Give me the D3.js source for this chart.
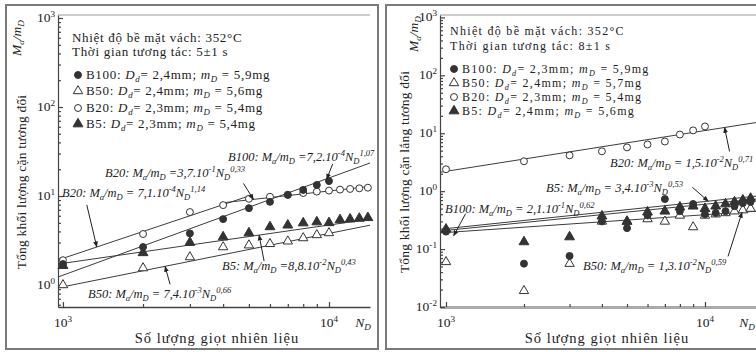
<!DOCTYPE html>
<meta charset="utf-8">
<title>Tổng khối lượng cặn tương đối</title>
<style>
body { margin: 0; background: #fff; }
svg { display: block; font-family: "Liberation Serif", "DejaVu Serif", serif; }
text { fill: #222; }
.frame { fill: none; stroke: #7a7a7a; stroke-width: 2px; }
.axis path, .axis line { stroke: #444; stroke-width: 1.2px; }
.fit { fill: none; stroke: #3c3c3c; stroke-width: 1px; }
.arrow { stroke: #222; stroke-width: 1px; }
</style>
<svg id="chart" width="756" height="352"></svg>
<script src="https://cdnjs.cloudflare.com/ajax/libs/d3/7.8.5/d3.min.js"></script>
<script>
// number of drops N_D
const dropsLeft = [1000, 2000, 3000, 4000, 5000, 6000, 7000, 8000, 9000, 10000, 11000, 12000, 13000, 14000];
const dropsRight = [1000, 2000, 3000, 4000, 5000, 6000, 7000, 8000, 9000, 10000, 11000, 12000, 13000, 14000, 15000];

// left panel, 5±1 s
const leftB100 = [1.72, 2.67, 3.8, 5.5, 7.3, 8.6, 10.3, 11.7, 13.3, 14.7, null, null, null, null];
const leftB50 = [1.0, 1.55, 2.06, 2.67, 2.8, 2.9, 3.1, 3.37, 3.65, 3.84, null, null, null, null];
const leftB20 = [1.9, 3.74, 6.6, 7.9, 9.3, 9.8, 10.3, 10.8, 11.2, 11.5, 11.8, 12.0, 12.2, 12.4];
const leftB5 = [1.65, 2.3, 3.0, 3.46, 3.84, 4.5, 4.7, 4.97, 5.1, 5.0, 5.4, 5.5, 5.6, 5.7];

// right panel, 8±1 s
const rightB100 = [0.2, 0.056, 0.076, 0.3, 0.23, 0.38, 0.73, 0.45, 0.6, 0.4, 0.42, 0.45, 0.55, 0.62, 0.65];
const rightB50 = [0.06, 0.019, 0.056, 0.3, 0.3, 0.33, 0.3, 0.38, 0.24, 0.38, 0.4, 0.42, 0.45, 0.47, 0.5];
const rightB20 = [2.39, 3.28, 4.15, 4.87, 5.7, 6.4, 7.2, 9.5, 11.2, 13.1, null, null, null, null, null];
const rightB5 = [0.22, 0.133, 0.162, 0.37, 0.3, 0.435, 0.45, 0.53, 0.55, 0.5, 0.55, 0.6, 0.65, 0.7, 0.75];

// fitted power laws, drawn between two read-off end points [N, value]
const fitsLeft = [
  [[958, 1.23], [14260, 23.5]],   // B100
  [[958, 1.91], [5000, 10]],      // B20, first part
  [[4000, 8.4], [14260, 12.8]],   // B20, second part
  [[958, 1.72], [14260, 5.5]],    // B5
  [[958, 0.93], [14260, 4.7]]     // B50
];
const fitsRight = [
  [[948, 2.12], [15740, 15.3]],   // B20
  [[948, 0.205], [15740, 0.73]],  // B100
  [[948, 0.22], [15740, 0.82]],   // B5
  [[948, 0.19], [15740, 0.45]]    // B50
];

const notesLeft = [
  "B100: M_{a}/m_{D} =7,2.10^{-4}N_{D}^{1,07}",
  "B20: M_{a}/m_{D} =3,7.10^{-1}N_{D}^{0,33}",
  "B20: M_{a}/m_{D} = 7,1.10^{-4}N_{D}^{1,14}",
  "B5: M_{a}/m_{D} =8,8.10^{-2}N_{D}^{0,43}",
  "B50: M_{a}/m_{D} = 7,4.10^{-3}N_{D}^{0,66}"
];
const tipsLeft = [[9800, 15.5], [5200, 9.15], [1340, 2.68], [5460, 3.64], [2420, 1.62]];
const notesRight = [
  "B20: M_{a}/m_{D} = 1,5.10^{-2}N_{D}^{0,71}",
  "B5: M_{a}/m_{D} = 3,4.10^{-3}N_{D}^{0,53}",
  "B100: M_{a}/m_{D} = 2,1.10^{-1}N_{D}^{0,62}",
  "B50: M_{a}/m_{D} = 1,3.10^{-2}N_{D}^{0,59}"
];
const tipsRight = [[11900, 12.6], [10300, 0.67], [1070, 0.17], [13900, 0.43]];

const legendKeys = ["B100", "B50", "B20", "B5"];
const legendLeft = [
  "Nhiệt độ bề mặt vách: 352°C",
  "Thời gian tương tác: 5±1 s",
  "B100: *D_{d}*= 2,4mm; *m_{D}* = 5,9mg",
  "B50: *D_{d}*= 2,4mm; *m_{D}* = 5,6mg",
  "B20: *D_{d}*= 2,3mm; *m_{D}* = 5,4mg",
  "B5: *D_{d}*= 2,3mm; *m_{D}* = 5,4mg"
];
const legendRight = [
  "Nhiệt độ bề mặt vách: 352°C",
  "Thời gian tương tác: 8±1 s",
  "B100: *D_{d}*= 2,3mm; *m_{D}* = 5,9mg",
  "B50: *D_{d}*= 2,4mm; *m_{D}* = 5,7mg",
  "B20: *D_{d}*= 2,3mm; *m_{D}* = 5,4mg",
  "B5: *D_{d}*= 2,4mm; *m_{D}* = 5,6mg"
];

const symbols = {
  B100: {type: d3.symbolCircle, filled: true, size: 38},
  B50: {type: d3.symbolTriangle, filled: false, size: 38},
  B20: {type: d3.symbolCircle, filled: false, size: 38},
  B5: {type: d3.symbolTriangle, filled: true, size: 42}
};

const svg = d3.select("#chart");
svg.append("defs").append("marker")
    .attr("id", "head")
    .attr("viewBox", "0 0 10 10")
    .attr("refX", 9).attr("refY", 5)
    .attr("markerWidth", 6).attr("markerHeight", 6)
    .attr("orient", "auto")
  .append("path")
    .attr("d", "M0,1L10,5L0,9Z")
    .attr("fill", "#222");

// little markup: _{sub}, ^{sup}, *italic*
function rich(sel, s) {
  let italic = false, shift = 0;
  for (const m of s.matchAll(/([_^])\{([^}]*)\}|\*|[^_^*]+/g)) {
    if (m[0] === "*") { italic = !italic; continue; }
    const t = sel.append("tspan");
    if (italic) t.attr("font-style", "italic");
    if (m[1]) {
      const d = m[1] === "_" ? 2.5 : -5;
      t.attr("dy", d - shift).attr("font-size", "0.68em").text(m[2]);
      shift = d;
    } else {
      t.attr("dy", -shift).text(m[0]);
      shift = 0;
    }
  }
  return sel;
}

function drawPanel(p) {
  const L = p.layout;
  const g = svg.append("g");

  g.append("rect").attr("class", "frame")
    .attr("x", L.frame[0]).attr("y", L.frame[1])
    .attr("width", L.frame[2]).attr("height", L.frame[3]);

  const x = d3.scaleLog().domain(p.xDomain).range([L.left, L.right]);
  const y = d3.scaleLog().domain(p.yDomain).range([L.bottom, L.top]);
  const isMajor = v => Math.abs(Math.log10(v) - Math.round(Math.log10(v))) < 1e-9;

  g.append("line")
    .attr("x1", L.left).attr("x2", L.right)
    .attr("y1", L.top).attr("y2", L.top)
    .attr("stroke", "#999").attr("stroke-width", 1.2);

  const xa = g.append("g").attr("class", "axis")
    .attr("transform", "translate(0," + L.bottom + ")")
    .call(d3.axisBottom(x).tickValues(x.ticks()).tickSize(-5).tickSizeOuter(0).tickFormat(""));
  xa.selectAll(".tick line").attr("y2", d => isMajor(d) ? -5 : -3);
  xa.select(".domain").style("stroke", L.xAxisColor).style("stroke-width", L.xAxisWidth);

  const ya = g.append("g").attr("class", "axis")
    .attr("transform", "translate(" + L.left + ",0)")
    .call(d3.axisLeft(y).tickValues(y.ticks()).tickSize(-5).tickSizeOuter(0).tickFormat(""));
  ya.selectAll(".tick line").attr("x2", d => isMajor(d) ? 5 : 3);

  // tick labels 10^k
  x.ticks().filter(isMajor).forEach(t => {
    const tx = g.append("text").attr("x", x(t)).attr("y", L.bottom + 20)
      .attr("text-anchor", "middle").attr("font-size", 13.5);
    rich(tx, "10^{" + Math.round(Math.log10(t)) + "}");
  });
  y.ticks().filter(isMajor).forEach(t => {
    const ty = g.append("text").attr("x", L.left - 3).attr("y", y(t) + 4)
      .attr("text-anchor", "end").attr("font-size", 13.5);
    rich(ty, "10^{" + Math.round(Math.log10(t)) + "}");
  });

  // axis titles
  g.append("text").attr("x", L.xTitle[0]).attr("y", L.xTitle[1])
    .attr("text-anchor", "middle").attr("font-size", 14.5).attr("letter-spacing", 1)
    .text("Số lượng giọt nhiên liệu");
  rich(g.append("text").attr("x", L.nLabel[0]).attr("y", L.nLabel[1])
    .attr("text-anchor", "middle").attr("font-size", 13.5), "*N_{D}*");
  g.append("text")
    .attr("transform", "translate(" + L.yTitle[0] + "," + L.yTitle[1] + ") rotate(-90)")
    .attr("text-anchor", "middle").attr("dy", "0.35em").attr("font-size", 13.5)
    .attr("letter-spacing", 0.2)
    .text(p.yTitle);
  rich(g.append("text")
    .attr("transform", "translate(" + L.yUnit[0] + "," + L.yUnit[1] + ") rotate(-90)")
    .attr("text-anchor", "middle").attr("dy", "0.35em").attr("font-size", 13.5), "*M_{a}/m_{D}*");

  // fitted lines
  const line = d3.line().x(d => x(d[0])).y(d => y(d[1]));
  g.selectAll(".fit").data(p.fits).enter().append("path")
    .attr("class", "fit").attr("d", line);

  // measured points
  p.series.forEach(s => {
    const st = symbols[s.key];
    const pts = p.drops.map((n, i) => [n, s.values[i]]).filter(d => d[1] != null);
    g.selectAll(null).data(pts).enter().append("path")
      .attr("transform", d => "translate(" + x(d[0]) + "," + y(d[1]) + ")")
      .attr("d", d3.symbol().type(st.type).size(st.size))
      .attr("fill", st.filled ? "#333" : "#fff")
      .attr("stroke", "#333").attr("stroke-width", 1);
  });

  // equations with arrows
  p.notes.forEach((s, i) => {
    const tip = p.tips[i], nl = L.notes[i];
    const px = x(tip[0]), py = y(tip[1]);
    g.append("line").attr("class", "arrow")
      .attr("x1", px + nl[2]).attr("y1", py + nl[3])
      .attr("x2", px).attr("y2", py)
      .attr("marker-end", "url(#head)");
    rich(g.append("text").attr("x", nl[0]).attr("y", nl[1])
      .attr("font-size", 12.5).attr("font-style", "italic"), s);
  });

  // legend block
  p.legend.forEach((s, i) => {
    const ly = L.legendRows[i];
    if (i < 2) {
      g.append("text").attr("x", L.legendX).attr("y", ly)
        .attr("font-size", L.legendFont).attr("letter-spacing", L.legendSpacing).text(s);
      return;
    }
    const st = symbols[legendKeys[i - 2]];
    g.append("path")
      .attr("transform", "translate(" + L.legendSym + "," + (ly - 4) + ")")
      .attr("d", d3.symbol().type(st.type).size(st.size))
      .attr("fill", st.filled ? "#333" : "#fff")
      .attr("stroke", "#333");
    rich(g.append("text").attr("x", L.legendSym + 8).attr("y", ly)
      .attr("font-size", L.legendFont).attr("letter-spacing", L.legendSpacing), s);
  });
}

drawPanel({
  xDomain: [958, 14260],
  yDomain: [0.566, 1081],
  drops: dropsLeft,
  series: [
    {key: "B50", values: leftB50},
    {key: "B5", values: leftB5},
    {key: "B20", values: leftB20},
    {key: "B100", values: leftB100}
  ],
  fits: fitsLeft,
  notes: notesLeft,
  tips: tipsLeft,
  legend: legendLeft,
  yTitle: "Tổng khối lượng cặn tương đối",
  layout: {
    frame: [6, 5, 372, 344],
    left: 58, right: 370, top: 15, bottom: 307,
    xAxisColor: "#444", xAxisWidth: 1.4,
    xTitle: [217, 343], nLabel: [363, 327],
    yTitle: [21, 182], yUnit: [21, 38],
    notes: [[228, 161, 6, -15], [105, 177, -10, -16], [62, 197, -10, -42], [222, 270, 5, 26], [88, 298, 5, 18]],
    legendX: 72, legendSym: 78, legendFont: 13, legendSpacing: 0.7,
    legendRows: [42, 56, 79, 95, 112, 128]
  }
});

drawPanel({
  xDomain: [948, 15740],
  yDomain: [0.01, 1100],
  drops: dropsRight,
  series: [
    {key: "B50", values: rightB50},
    {key: "B5", values: rightB5},
    {key: "B100", values: rightB100},
    {key: "B20", values: rightB20}
  ],
  fits: fitsRight,
  notes: notesRight,
  tips: tipsRight,
  legend: legendRight,
  yTitle: "Tổng khối lượng cặn lắng tương đối",
  layout: {
    frame: [386, 5, 376, 344],
    left: 440, right: 756, top: 15, bottom: 307,
    xAxisColor: "#aaa", xAxisWidth: 3,
    xTitle: [607, 343], nLabel: [747, 327],
    yTitle: [404, 172], yUnit: [418, 34],
    notes: [[610, 167, 5, 24], [546, 192, -16, -14], [445, 213, 12, -22], [583, 270, -14, 44]],
    legendX: 450, legendSym: 454, legendFont: 12, legendSpacing: 1.3,
    legendRows: [35, 50, 73, 87, 101, 115]
  }
});
</script>
